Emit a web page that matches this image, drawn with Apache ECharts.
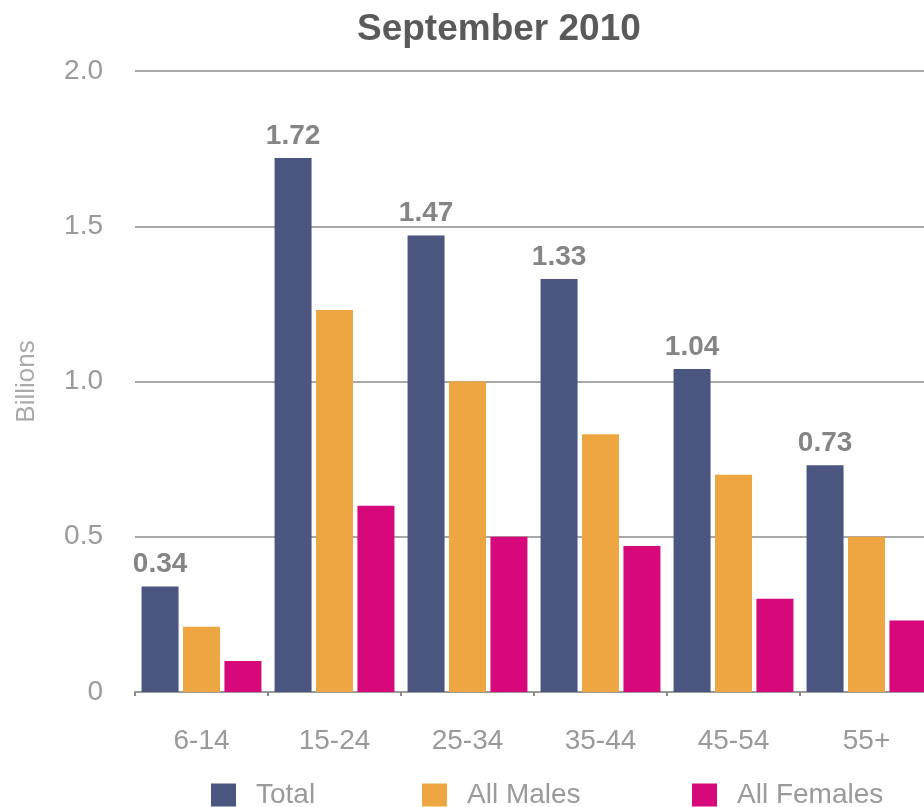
<!DOCTYPE html>
<html>
<head>
<meta charset="utf-8">
<script src="https://cdn.jsdelivr.net/npm/echarts@6/dist/echarts.min.js"></script>
<style>
html,body{margin:0;padding:0;background:#fff;}
#chart{width:924px;height:807px;}
</style>
</head>
<body>
<div id="chart"></div>
<script>
var categories = ['6-14', '15-24', '25-34', '35-44', '45-54', '55+'];
var totalValues = [0.34, 1.72, 1.47, 1.33, 1.04, 0.73];
var maleValues = [0.21, 1.23, 1.00, 0.83, 0.70, 0.50];
var femaleValues = [0.10, 0.60, 0.50, 0.47, 0.30, 0.23];
var yTicks = [0, 0.5, 1.0, 1.5, 2.0];

var FONT = '"Liberation Sans", Arial, Helvetica, sans-serif';
var chart = echarts.init(document.getElementById('chart'), null, {renderer: 'canvas'});

function legendAt(name, left) {
  return {
    data: [name], left: left, top: 781, orient: 'horizontal',
    itemWidth: 25, itemHeight: 23, padding: 0, selectedMode: false,
    icon: 'rect',
    textStyle: {fontFamily: FONT, fontSize: 28, color: '#9a9a9a', padding: [0, 0, 0, 15]}
  };
}

chart.setOption({
  animation: false,
  backgroundColor: '#fff',
  title: {
    text: 'September 2010', left: 357, top: 11, padding: 0,
    textStyle: {fontFamily: FONT, fontSize: 37, fontWeight: 'bold', color: '#5a5a5a'}
  },
  legend: [
    legendAt('Total', 211),
    legendAt('All Males', 422),
    legendAt('All Females', 692)
  ],
  grid: {left: 135, right: -9, top: 71, bottom: 115, containLabel: false, outerBoundsMode: 'none'},
  xAxis: {
    type: 'category', data: categories,
    axisLine: {show: true, lineStyle: {color: '#9a9a9a', width: 2}},
    axisTick: {show: true, length: 4, lineStyle: {color: '#8a8a8a', width: 2}},
    axisLabel: {fontFamily: FONT, fontSize: 28, color: '#9a9a9a', margin: 35}
  },
  yAxis: {
    type: 'value', min: 0, max: 2, interval: 0.5,
    name: 'Billions', nameLocation: 'middle', nameRotate: 90, nameGap: 95,
    nameTextStyle: {fontFamily: FONT, fontSize: 26, color: '#aaaaaa'},
    axisLine: {show: false}, axisTick: {show: false},
    splitLine: {show: true, lineStyle: {color: '#a8a8a8', width: 2}},
    axisLabel: {
      fontFamily: FONT, fontSize: 28, color: '#9a9a9a', margin: 32,
      formatter: function (v) {
        for (var i = 0; i < yTicks.length; i++) {
          if (Math.abs(yTicks[i] - v) < 1e-9) return v === 0 ? '0' : v.toFixed(1);
        }
        return '';
      }
    }
  },
  series: [
    {
      name: 'Total', type: 'bar', data: totalValues, barWidth: 37, barGap: '12%',
      itemStyle: {color: '#4a5580'},
      label: {show: true, position: 'top', distance: 8, fontFamily: FONT, fontSize: 28, fontWeight: 'bold', color: '#858585',
        formatter: function (p) { return p.value.toFixed(2); }}
    },
    {
      name: 'All Males', type: 'bar', data: maleValues, barWidth: 37, barGap: '12%',
      itemStyle: {color: '#eea642'}
    },
    {
      name: 'All Females', type: 'bar', data: femaleValues, barWidth: 37, barGap: '12%',
      itemStyle: {color: '#d6087a'}
    }
  ]
});
</script>
</body>
</html>
